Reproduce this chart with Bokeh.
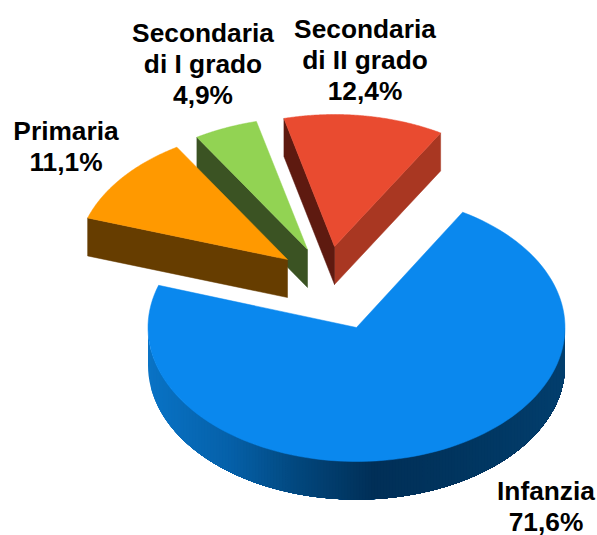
import math
from bokeh.plotting import figure
from bokeh.models import Range1d, ColumnDataSource
from bokeh.core.properties import value
from bokeh.embed import file_html
from bokeh.resources import INLINE

# data
categories = ["Infanzia", "Primaria", "Secondaria di I grado", "Secondaria di II grado"]
shares = [71.6, 11.1, 4.9, 12.4]
label_lines = [["Infanzia", "71,6%"], ["Primaria", "11,1%"],
               ["Secondaria", "di I grado", "4,9%"], ["Secondaria", "di II grado", "12,4%"]]

# style / layout
top_colors = ["#0A88EE", "#FF9900", "#92D353", "#E94B30"]
cut_colors = [None, "#663D00", "#3B5323", "#5E1A10"]
rim_colors = [None, None, None, "#A93722"]
# outer wall shade: (horizontal position across the pie from left 0 to right 1, rgb)
blue_stops = [(0.0, (9, 115, 198)), (0.2, (5, 96, 168)), (0.36, (2, 71, 125)),
              (0.54, (1, 47, 87)), (0.75, (1, 53, 95)), (1.0, (2, 62, 109))]
W, H = 597, 535
CX, CY, RX, RY, DEPTH = 356.0, 327.0, 208.5, 134.0, 38.0
START = 30.6
offsets = [(0, 0), (-69, -68), (-49, -78), (-22, -81)]
scales_x = [1.0, 1.01, 1.01, 1.0]
scales_y = [1.0, 0.985, 0.985, 0.985]
label_pos = [(545.5, 490), (65.5, 130), (202.5, 32), (364.5, 28)]
LINE = 31
FONT = "Liberation Sans"

p = figure(width=W, height=H, output_backend="svg", toolbar_location=None,
           x_range=Range1d(0, W), y_range=Range1d(H, 0),
           min_border=0, outline_line_color=None)
p.grid.visible = False
p.xaxis.visible = False
p.yaxis.visible = False


def pt(cx, cy, deg, kx=1.0, ky=1.0):
    a = math.radians(deg)
    return cx + kx * RX * math.sin(a), cy - ky * RY * math.cos(a)


def arc(cx, cy, a0, a1, kx=1.0, ky=1.0, n=120):
    return [pt(cx, cy, a0 + (a1 - a0) * i / n, kx, ky) for i in range(n + 1)]


def poly(points, color, edge=True):
    xs = [q[0] for q in points]
    ys = [q[1] for q in points]
    p.patch(xs, ys, fill_color=color, line_color=color if edge else None, line_width=0.5)


def wall(a, b, color):
    poly([a, b, (b[0], b[1] + DEPTH), (a[0], a[1] + DEPTH)], color)


# slice angles, clockwise from north
angles = []
cur = START
for s in shares:
    angles.append((cur, cur + s * 3.6))
    cur += s * 3.6


def blue_at(f):
    for (a0, c0), (a1, c1) in zip(blue_stops, blue_stops[1:]):
        if a0 <= f <= a1:
            t = (f - a0) / (a1 - a0)
            return "#%02x%02x%02x" % tuple(round(u + (v - u) * t) for u, v in zip(c0, c1))
    return "#%02x%02x%02x" % blue_stops[-1][1]


# back to front: red, green, orange, blue
for i in (3, 2, 1, 0):
    a0, a1 = angles[i]
    ox, oy = offsets[i]
    cx, cy = CX + ox, CY + oy
    kx, ky = scales_x[i], scales_y[i]
    if i == 0:
        # curved outer wall, shaded left to right in vertical bands; each band runs
        # to the right edge so that the next one paints over it without a seam
        n = 140
        for b in range(n):
            f0 = b / n
            u0 = 2 * f0 - 1
            d0 = 180 - math.degrees(math.asin(u0))
            seg = arc(cx, cy, d0, 90, kx, ky, 80)
            low = [(x, y + DEPTH) for x, y in reversed(seg)]
            poly(seg + low, blue_at(f0 + 0.5 / n), edge=False)
    else:
        if rim_colors[i]:
            wall(pt(cx, cy, a1, kx, ky), (cx, cy), rim_colors[i])
        wall(pt(cx, cy, a0, kx, ky), (cx, cy), cut_colors[i])
    poly([(cx, cy)] + arc(cx, cy, a0, a1, kx, ky), top_colors[i])

xs, ys, txt = [], [], []
for (lx, ly), lines in zip(label_pos, label_lines):
    for j, t in enumerate(lines):
        xs.append(lx)
        ys.append(ly + j * LINE)
        txt.append(t)
p.text(x="x", y="y", text="t", source=ColumnDataSource(dict(x=xs, y=ys, t=txt)),
       text_font=value(FONT), text_font_style="bold", text_font_size="26.3px",
       text_align="center", text_baseline="alphabetic", text_color="#000000")

open("out.html", "w").write(file_html(p, INLINE))
